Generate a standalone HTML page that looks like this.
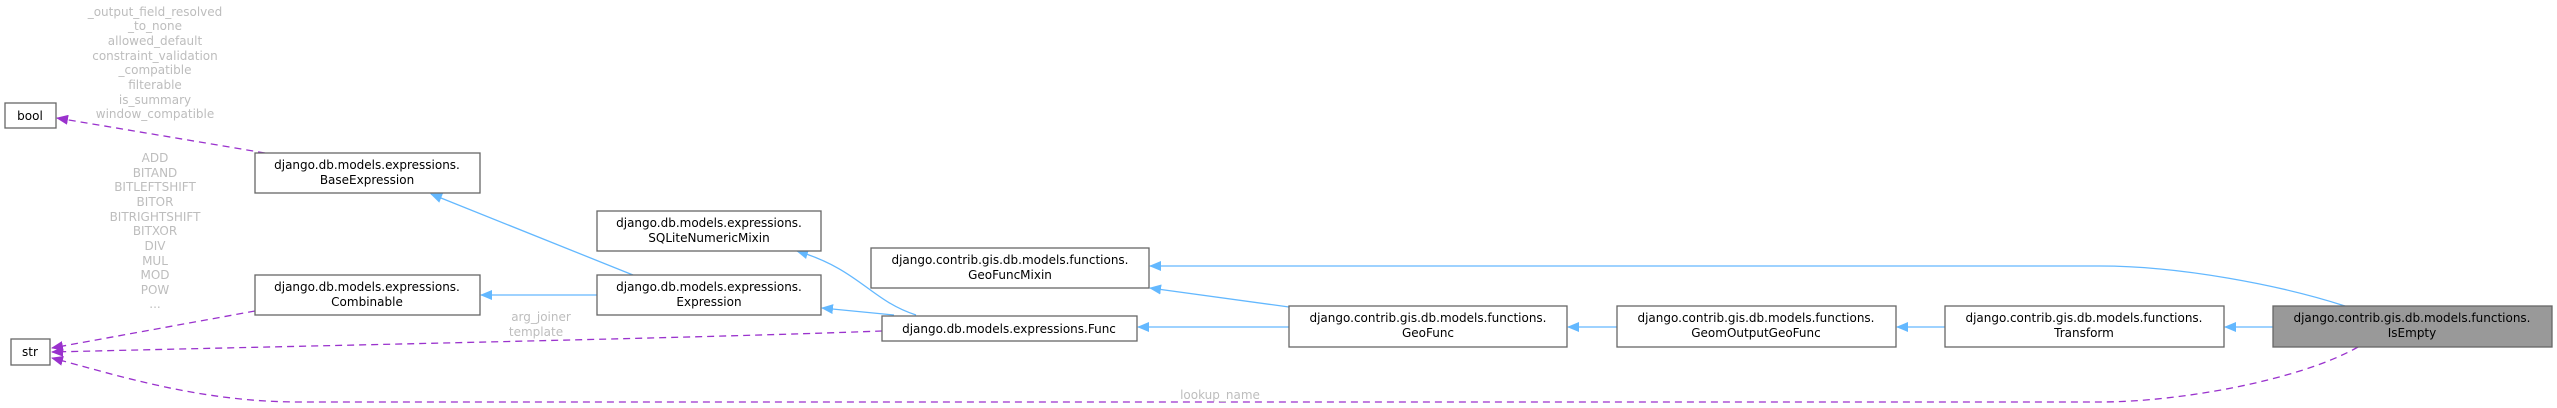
<!DOCTYPE html>
<html><head><meta charset="utf-8"><style>
html,body{margin:0;padding:0;background:#fff;}
svg{display:block;}
text{font-family:"DejaVu Sans","Liberation Sans",sans-serif;font-size:12px;}
.n{fill:#fff;stroke:#666;stroke-width:1.3;}
.t{fill:#000;text-anchor:middle;}
.l{fill:#bdbdbd;text-anchor:middle;}
.b{fill:none;stroke:#63b8ff;stroke-width:1.3;}
.d{fill:none;stroke:#9a32cd;stroke-width:1.3;stroke-dasharray:7,5;}
</style></head><body>
<svg width="2557" height="408" viewBox="0 0 2557 408" xmlns="http://www.w3.org/2000/svg">
<defs>
<marker id="ab" markerWidth="12" markerHeight="10" refX="11" refY="5" orient="auto" markerUnits="userSpaceOnUse"><path d="M0,0 L12,5 L0,10 z" fill="#63b8ff"/></marker>
<marker id="ap" markerWidth="12" markerHeight="10" refX="11" refY="5" orient="auto" markerUnits="userSpaceOnUse"><path d="M0,0 L12,5 L0,10 z" fill="#9a32cd"/></marker>
</defs>

<!-- dashed edges -->
<path class="d" d="M265,153 L57,118" marker-end="url(#ap)"/>
<path class="d" d="M255,311 L52,348" marker-end="url(#ap)"/>
<path class="d" d="M882,331 C700,338 300,346 52,352" marker-end="url(#ap)"/>
<path class="d" d="M2358,347 C2300,380 2180,402 2100,402 L300,402 C200,402 120,376 52,358" marker-end="url(#ap)"/>

<!-- blue edges -->
<path class="b" d="M633,275 L431,194" marker-end="url(#ab)"/>
<path class="b" d="M597,295 L481,295" marker-end="url(#ab)"/>
<path class="b" d="M916,315 C870,300 860,270 797,251" marker-end="url(#ab)"/>
<path class="b" d="M894,315 L822,308" marker-end="url(#ab)"/>
<path class="b" d="M2345,306 C2280,285 2180,266 2100,266 L1150,266" marker-end="url(#ab)"/>
<path class="b" d="M1289,307 L1150,288" marker-end="url(#ab)"/>
<path class="b" d="M1289,327 L1138,327" marker-end="url(#ab)"/>
<path class="b" d="M1617,327 L1568,327" marker-end="url(#ab)"/>
<path class="b" d="M1945,327 L1897,327" marker-end="url(#ab)"/>
<path class="b" d="M2273,327 L2225,327" marker-end="url(#ab)"/>

<!-- nodes -->
<rect class="n" x="5" y="103" width="51" height="25"/><text class="t" x="30" y="120">bool</text>
<rect class="n" x="11" y="339" width="39" height="26"/><text class="t" x="30" y="356">str</text>

<rect class="n" x="255" y="153" width="225" height="40"/>
<text class="t" x="367" y="169">django.db.models.expressions.</text><text class="t" x="367" y="184">BaseExpression</text>

<rect class="n" x="255" y="275" width="225" height="40"/>
<text class="t" x="367" y="291">django.db.models.expressions.</text><text class="t" x="367" y="306">Combinable</text>

<rect class="n" x="597" y="211" width="224" height="40"/>
<text class="t" x="709" y="227">django.db.models.expressions.</text><text class="t" x="709" y="242">SQLiteNumericMixin</text>

<rect class="n" x="597" y="275" width="224" height="40"/>
<text class="t" x="709" y="291">django.db.models.expressions.</text><text class="t" x="709" y="306">Expression</text>

<rect class="n" x="871" y="248" width="278" height="40"/>
<text class="t" x="1010" y="264">django.contrib.gis.db.models.functions.</text><text class="t" x="1010" y="279">GeoFuncMixin</text>

<rect class="n" x="882" y="316" width="255" height="25"/>
<text class="t" x="1009" y="333">django.db.models.expressions.Func</text>

<rect class="n" x="1289" y="306" width="278" height="41"/>
<text class="t" x="1428" y="322">django.contrib.gis.db.models.functions.</text><text class="t" x="1428" y="337">GeoFunc</text>

<rect class="n" x="1617" y="306" width="279" height="41"/>
<text class="t" x="1756" y="322">django.contrib.gis.db.models.functions.</text><text class="t" x="1756" y="337">GeomOutputGeoFunc</text>

<rect class="n" x="1945" y="306" width="279" height="41"/>
<text class="t" x="2084" y="322">django.contrib.gis.db.models.functions.</text><text class="t" x="2084" y="337">Transform</text>

<rect x="2273" y="306" width="279" height="41" fill="#999" stroke="#666" stroke-width="1.3"/>
<text class="t" x="2412" y="322">django.contrib.gis.db.models.functions.</text><text class="t" x="2412" y="337">IsEmpty</text>

<!-- labels -->
<g class="l">
<text class="l" x="155" y="16">_output_field_resolved</text>
<text class="l" x="155" y="30">_to_none</text>
<text class="l" x="155" y="45">allowed_default</text>
<text class="l" x="155" y="60">constraint_validation</text>
<text class="l" x="155" y="74">_compatible</text>
<text class="l" x="155" y="89">filterable</text>
<text class="l" x="155" y="104">is_summary</text>
<text class="l" x="155" y="118">window_compatible</text>

<text class="l" x="155" y="162">ADD</text>
<text class="l" x="155" y="177">BITAND</text>
<text class="l" x="155" y="191">BITLEFTSHIFT</text>
<text class="l" x="155" y="206">BITOR</text>
<text class="l" x="155" y="221">BITRIGHTSHIFT</text>
<text class="l" x="155" y="235">BITXOR</text>
<text class="l" x="155" y="250">DIV</text>
<text class="l" x="155" y="265">MUL</text>
<text class="l" x="155" y="279">MOD</text>
<text class="l" x="155" y="294">POW</text>
<text class="l" x="155" y="308">...</text>

<text class="l" x="541" y="321">arg_joiner</text>
<text class="l" x="536" y="336">template</text>
<text class="l" x="1220" y="399">lookup_name</text>
</g>
</svg>
</body></html>
